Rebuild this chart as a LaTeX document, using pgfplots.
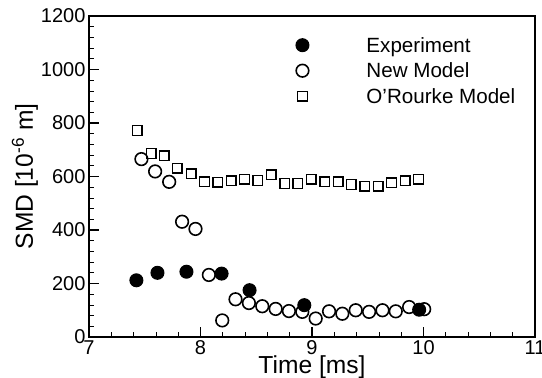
\documentclass[border=0pt]{standalone}
\usepackage{fontspec}
\setmainfont{Liberation Sans}
\usepackage{pgfplots}
\pgfplotsset{compat=1.18}
\pgfplotsset{
  mylegend/.style={legend image code/.code={%
    \draw[mark repeat=2,mark phase=2,##1] plot coordinates {(0pt,0pt)(0pt,0pt)(0pt,0pt)};
    \path[draw=none,fill=none] (0pt,0pt) -- (62pt,0pt);}}
}
\begin{document}
\begin{tikzpicture}
\begin{axis}[name=ax,
  scale only axis, width=446pt, height=321pt,
  xmin=7, xmax=11, ymin=0, ymax=1200,
  xtick={7,8,9,10,11}, ytick={0,200,400,600,800,1000,1200},
  minor tick num=4,
  tick align=inside, tick pos=left,
  major tick length=10pt, minor tick length=5pt,
  axis line style={line width=1.4pt},
  every tick/.style={black, line width=1.2pt},
  every minor tick/.style={black, line width=0.7pt},
  /pgf/number format/assume math mode=true,
  /pgf/number format/set thousands separator={},
  tick label style={font=\fontsize{20}{24}\selectfont},
  label style={font=\fontsize{24.6}{28}\selectfont},
  xlabel={Time [ms]},
  ylabel={SMD [10\textsuperscript{-6} m]},
  xlabel style={at={(axis description cs:0.5,0)}, anchor=base, yshift=-36pt},
  ylabel style={at={(axis description cs:-0.1435,0.5)}, anchor=center, rotate=0},
  legend cell align=left,
  legend style={draw=none, fill=none, at={(rel axis cs:0.4636,1)}, anchor=north west,
    yshift=-15.5pt, inner sep=0pt, row sep=-1.5pt,
    font=\fontsize{20.6}{24}\selectfont,
    nodes={inner sep=2pt, text height=18.5pt, text depth=4.5pt}},
]
\addplot[only marks, mylegend, mark=*, mark size=6.5pt, mark options={draw=black, fill=black, line width=1pt}]
coordinates {
(7.425,212) (7.614,240) (7.874,244) (8.189,237) (8.440,175) (8.931,119) (9.961,102)
};
\addlegendentry{Experiment}
\addplot[only marks, mylegend, mark=o, mark size=6.3pt, mark options={draw=black, line width=1.6pt}]
coordinates {
(7.470,665) (7.593,619) (7.719,580) (7.835,431) (7.955,404) (8.075,232) (8.195,62)
(8.314,141) (8.434,127) (8.554,115) (8.674,105) (8.793,97) (8.913,94) (9.033,69)
(9.153,96) (9.272,87) (9.392,100) (9.512,94) (9.632,100) (9.751,96) (9.871,112) (10.006,104)
};
\addlegendentry{New Model}
\addplot[only marks, mylegend, mark=square, mark size=4.8pt, mark options={draw=black, fill=white, line width=1.5pt}]
coordinates {
(7.434,772) (7.557,686) (7.674,677) (7.793,631) (7.916,610) (8.036,581) (8.156,579)
(8.275,584) (8.395,590) (8.515,585) (8.635,607) (8.754,574) (8.871,574) (8.994,590)
(9.114,580) (9.234,580) (9.353,570) (9.473,564) (9.593,564) (9.713,576) (9.835,584) (9.955,590)
};
\addlegendentry{O'Rourke Model}
\end{axis}
\pgfresetboundingbox
\useasboundingbox ([shift={(-89pt,-40pt)}]ax.south west) rectangle ([shift={(7pt,16pt)}]ax.north east);
\end{tikzpicture}
\end{document}
